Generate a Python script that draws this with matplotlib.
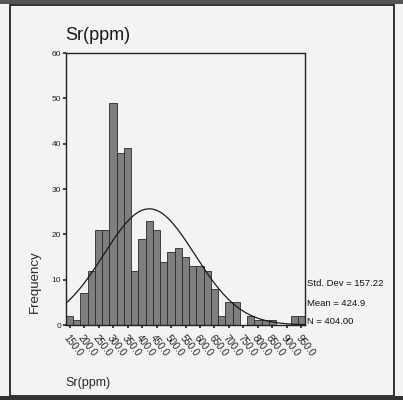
import numpy as np
import matplotlib
matplotlib.use("Agg")
import matplotlib.pyplot as plt
from matplotlib.patches import Rectangle

# histogram of Sr (ppm), SPSS style
bin_mids = list(range(150, 951, 25))
counts = [2, 1, 7, 12, 21, 21, 49, 38, 39, 12, 19, 23, 21, 14, 16, 17,
          15, 13, 13, 12, 8, 2, 5, 5, 0, 2, 1, 1, 1, 0, 0, 2, 2]
tick_vals = list(range(150, 951, 50))
tick_labels = ["%.1f" % v for v in tick_vals]
y_ticks = [0, 10, 20, 30, 40, 50, 60]

std_dev = 157.22
mean = 424.9
n_obs = 404.00
bin_width = 25

narrow = ["Liberation Sans Narrow", "Liberation Sans", "DejaVu Sans"]
regular = ["Liberation Sans", "DejaVu Sans"]
bg = "#f3f3f1"

fig = plt.figure(figsize=(4.03, 4.0), dpi=100, facecolor=bg)
ax = fig.add_axes([66 / 403, 1 - 325 / 400, (305 - 66) / 403, (325 - 53) / 400])
ax.set_facecolor(bg)

ax.bar(bin_mids, counts, width=bin_width, color="#7f7f7f",
       edgecolor="#2a2a2a", linewidth=0.6, zorder=2)

# fitted normal curve
lo = bin_mids[0] - bin_width / 2
hi = bin_mids[-1] + bin_width / 2
xs = np.linspace(lo, hi, 300)
ys = n_obs * bin_width / (std_dev * np.sqrt(2 * np.pi)) * np.exp(-0.5 * ((xs - mean) / std_dev) ** 2)
ax.plot(xs, ys, color="#1a1a1a", lw=0.9, zorder=3)

ax.set_xlim(lo, hi)
ax.set_ylim(0, 60)
ax.set_yticks(y_ticks)
ax.set_yticklabels([str(v) for v in y_ticks], fontsize=6, family=narrow, color="#222222")
ax.set_xticks(tick_vals)
ax.set_xticklabels(tick_labels, fontsize=7, family=regular, color="#222222",
                   rotation=-52, ha="left", va="top", rotation_mode="anchor")
ax.tick_params(axis="both", direction="out", length=2, width=1.2, color="#222222", pad=1.5)
ax.tick_params(axis="x", pad=4)
for s in ax.spines.values():
    s.set_color("#222222")
    s.set_linewidth(1.0)

# titles
fig.text(65 / 403, 1 - 36 / 400, "Sr(ppm)", fontsize=13, family=narrow,
         color="#1a1a1a", ha="left", va="center")
fig.text(35 / 403, 1 - 282 / 400, "Frequency", fontsize=9.5, family=regular,
         color="#2a2a2a", rotation=90, ha="center", va="center")
fig.text(65 / 403, 1 - 383 / 400, "Sr(ppm)", fontsize=9, family=narrow,
         color="#2a2a2a", ha="left", va="center")

# summary statistics
stats = ["Std. Dev = %.2f" % std_dev, "Mean = %.1f" % mean, "N = %.2f" % n_obs]
for i, s in enumerate(stats):
    fig.text(307 / 403, 1 - (284 + 19 * i) / 400, s, fontsize=6.8, family=narrow,
             color="#111111", ha="left", va="center")

# outer frame
fig.patches.append(Rectangle((10 / 403, 4 / 400), 384 / 403, 391 / 400,
                             transform=fig.transFigure, fill=False,
                             edgecolor="#222222", linewidth=1.3))
fig.patches.append(Rectangle((0, 1 - 4 / 400), 1, 4 / 400, transform=fig.transFigure,
                             facecolor="#555555", edgecolor="none"))
fig.patches.append(Rectangle((0, 0), 1, 4 / 400, transform=fig.transFigure,
                             facecolor="#333333", edgecolor="none"))

fig.savefig("out.png", dpi=100, facecolor=bg)
